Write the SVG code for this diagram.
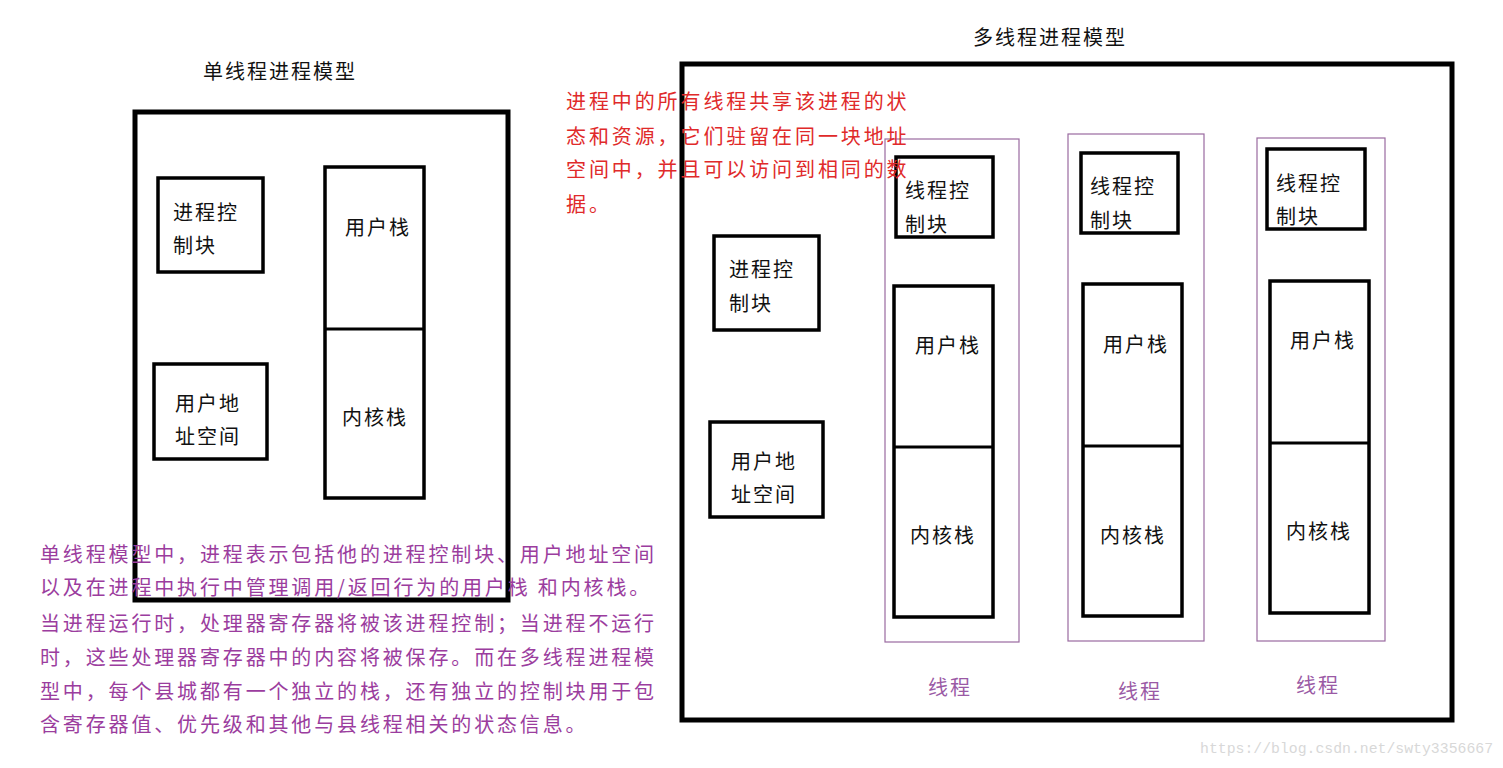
<svg xmlns="http://www.w3.org/2000/svg" width="1503" height="768" viewBox="0 0 1503 768">
<style>
text{font-family:"Noto Sans CJK SC","Liberation Serif",sans-serif;font-size:20px;letter-spacing:2px;fill:#111}
.outer{fill:none;stroke:#000;stroke-width:5}
.box{fill:none;stroke:#000;stroke-width:3.5}
.thr{fill:none;stroke:#9a6aa0;stroke-width:1.2}
.note{fill:#9b3d9e;letter-spacing:2.85px}
.red{fill:#e02a2a;letter-spacing:2.9px}
.tl{fill:#9a5aa5}
.wm{font-family:"Liberation Mono",monospace;font-size:14.8px;letter-spacing:0;fill:#d8d8d8}
</style>
<rect width="1503" height="768" fill="#fff"/>

<g id="single">
<text x="203" y="79">单线程进程模型</text>
<rect class="outer" x="135" y="112" width="373" height="488"/>
</g>
<g id="single-pcb"><rect class="box" x="158" y="178" width="105" height="94"/>
<text x="173" y="220">进程控</text><text x="173" y="253">制块</text></g>
<g id="single-stack"><rect class="box" x="325" y="167" width="99" height="331"/>
<line x1="325" y1="329" x2="424" y2="329" stroke="#000" stroke-width="3"/>
<text x="345" y="235">用户栈</text><text x="342" y="425">内核栈</text></g>
<g id="single-uas"><rect class="box" x="154" y="364" width="113" height="95"/>
<text x="175" y="411">用户地</text><text x="175" y="444">址空间</text></g>

<g id="single-note">
<text class="note" x="40" y="562">单线程模型中，进程表示包括他的进程控制块、用户地址空间</text>
<text class="note" x="40" y="595">以及在进程中执行中管理调用/返回行为的用户栈 和内核栈。</text>
<text class="note" x="40" y="631">当进程运行时，处理器寄存器将被该进程控制；当进程不运行</text>
<text class="note" x="40" y="665">时，这些处理器寄存器中的内容将被保存。而在多线程进程模</text>
<text class="note" x="40" y="699">型中，每个县城都有一个独立的栈，还有独立的控制块用于包</text>
<text class="note" x="40" y="732">含寄存器值、优先级和其他与县线程相关的状态信息。</text>
</g>

<g id="multi">
<text x="973" y="45">多线程进程模型</text>
<rect class="outer" x="682" y="64" width="770" height="656"/>
</g>
<g id="multi-pcb"><rect class="box" x="714" y="236" width="105" height="94"/>
<text x="729" y="277">进程控</text><text x="729" y="311">制块</text></g>
<g id="multi-uas"><rect class="box" x="710" y="422" width="113" height="95"/>
<text x="731" y="469">用户地</text><text x="731" y="502">址空间</text></g>

<g id="thread1">
<rect class="thr" x="885" y="139" width="134" height="503"/>
<rect class="box" x="896" y="157" width="97" height="80"/>
<text x="905" y="198">线程控</text><text x="905" y="232">制块</text>
<rect class="box" x="894" y="286" width="99" height="331"/>
<line x1="894" y1="447" x2="993" y2="447" stroke="#000" stroke-width="3"/>
<text x="915" y="353">用户栈</text><text x="910" y="543">内核栈</text>
<text class="tl" x="928" y="695">线程</text>
</g>
<g id="thread2">
<rect class="thr" x="1068" y="134" width="136" height="507"/>
<rect class="box" x="1081" y="153" width="97" height="80"/>
<text x="1090" y="194">线程控</text><text x="1090" y="228">制块</text>
<rect class="box" x="1083" y="284" width="99" height="332"/>
<line x1="1083" y1="446" x2="1182" y2="446" stroke="#000" stroke-width="3"/>
<text x="1103" y="352">用户栈</text><text x="1100" y="543">内核栈</text>
<text class="tl" x="1118" y="699">线程</text>
</g>
<g id="thread3">
<rect class="thr" x="1257" y="138" width="128" height="503"/>
<rect class="box" x="1267" y="149" width="98" height="80"/>
<text x="1276" y="191">线程控</text><text x="1276" y="224">制块</text>
<rect class="box" x="1270" y="281" width="99" height="332"/>
<line x1="1270" y1="443" x2="1369" y2="443" stroke="#000" stroke-width="3"/>
<text x="1290" y="348">用户栈</text><text x="1286" y="539">内核栈</text>
<text class="tl" x="1296" y="693">线程</text>
</g>

<g id="multi-note">
<text class="red" x="566" y="109">进程中的所有线程共享该进程的状</text>
<text class="red" x="566" y="144">态和资源，它们驻留在同一块地址</text>
<text class="red" x="566" y="177">空间中，并且可以访问到相同的数</text>
<text class="red" x="566" y="212">据。</text>
</g>

<g id="connectors"></g>
<text class="wm" x="1200" y="753">https://blog.csdn.net/swty3356667</text>
</svg>
